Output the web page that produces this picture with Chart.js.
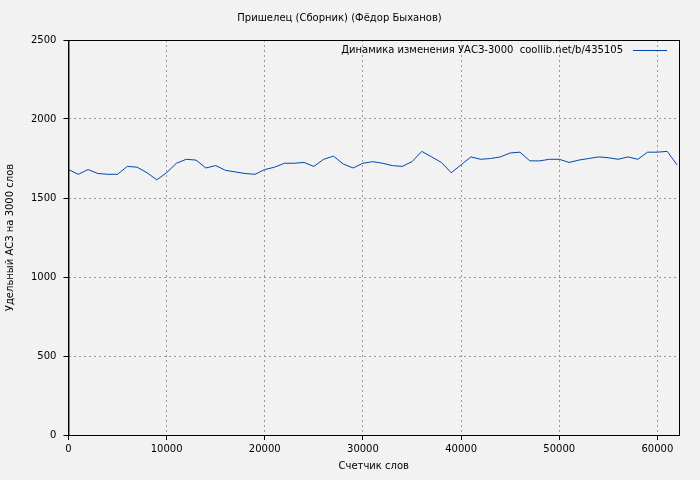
<!DOCTYPE html>
<html><head><meta charset="utf-8">
<script src="https://cdn.jsdelivr.net/npm/chart.js@4"></script>
<style>body{margin:0;background:#f2f2f2}</style>
</head><body>
<canvas id="c" width="700" height="480"></canvas>
<script>
const words = [0,1000,2000,3000,4000,5000,6000,7000,8000,9000,10000,11000,12000,13000,14000,15000,16000,17000,18000,19000,20000,21000,22000,23000,24000,25000,26000,27000,28000,29000,30000,31000,32000,33000,34000,35000,36000,37000,38000,39000,40000,41000,42000,43000,44000,45000,46000,47000,48000,49000,50000,51000,52000,53000,54000,55000,56000,57000,58000,59000,60000,61000,62000];
const uas = [1680,1650,1680,1655,1650,1650,1700,1695,1660,1615,1660,1720,1745,1740,1690,1705,1675,1665,1655,1650,1680,1695,1720,1720,1725,1700,1745,1765,1715,1690,1720,1730,1720,1705,1700,1730,1795,1760,1725,1660,1710,1760,1745,1750,1760,1785,1790,1735,1735,1745,1745,1725,1740,1750,1760,1755,1745,1760,1745,1790,1790,1795,1710];
const xTicks = [0,10000,20000,30000,40000,50000,60000];
const yTicks = [0,500,1000,1500,2000,2500];
const seriesLabel = 'Динамика изменения УАСЗ-3000  coollib.net/b/435105';

const font = {family: 'DejaVu Sans', size: 10};
const grid = {color: '#999', drawTicks: true, tickColor: '#000', tickLength: 5};
const border = {color: '#000', width: 1, dash: [2, 3]};

const framePlugin = {
  id: 'frame',
  afterDraw(chart) {
    const {ctx, chartArea: a} = chart;
    ctx.save();
    ctx.strokeStyle = '#000';
    ctx.lineWidth = 1;
    ctx.strokeRect(a.left + 0.5, a.top + 0.5, a.right - a.left, a.bottom - a.top);
    ctx.font = '10px DejaVu Sans';
    ctx.fillStyle = '#000';
    ctx.textAlign = 'right';
    ctx.textBaseline = 'middle';
    const y = a.top + 10;
    ctx.fillText(seriesLabel, a.right - 56, y);
    ctx.strokeStyle = '#0047ab';
    ctx.beginPath();
    ctx.moveTo(a.right - 46, y + 0.5);
    ctx.lineTo(a.right - 12, y + 0.5);
    ctx.stroke();
    ctx.restore();
  }
};

new Chart(document.getElementById('c'), {
  type: 'line',
  data: {datasets: [{
    data: words.map((w, i) => ({x: w, y: uas[i]})),
    borderColor: '#0047ab', borderWidth: 1, pointRadius: 0, tension: 0
  }]},
  options: {
    responsive: false, animation: false,
    layout: {padding: {top: 12, right: 21, left: 0, bottom: 4}},
    plugins: {
      legend: {display: false},
      tooltip: {enabled: false},
      title: {display: true, text: 'Пришелец (Сборник) (Фёдор Быханов)', color: '#000', font: {family: 'DejaVu Sans', size: 10, weight: 'normal'}, padding: {top: 0, bottom: 16}}
    },
    scales: {
      x: {
        type: 'linear', min: 0, max: 62200,
        afterBuildTicks: s => { s.ticks = xTicks.map(v => ({value: v})); },
        ticks: {color: '#000', font, maxRotation: 0, callback: v => String(v)},
        grid, border,
        title: {display: true, text: 'Счетчик слов', color: '#000', font, padding: {top: 2}}
      },
      y: {
        min: 0, max: 2500,
        afterBuildTicks: s => { s.ticks = yTicks.map(v => ({value: v})); },
        ticks: {color: '#000', font, padding: 7, callback: v => String(v)},
        grid, border,
        title: {display: true, text: 'Удельный АСЗ на 3000 слов', color: '#000', font, padding: {bottom: 8}}
      }
    }
  },
  plugins: [framePlugin]
});
</script>
</body></html>
